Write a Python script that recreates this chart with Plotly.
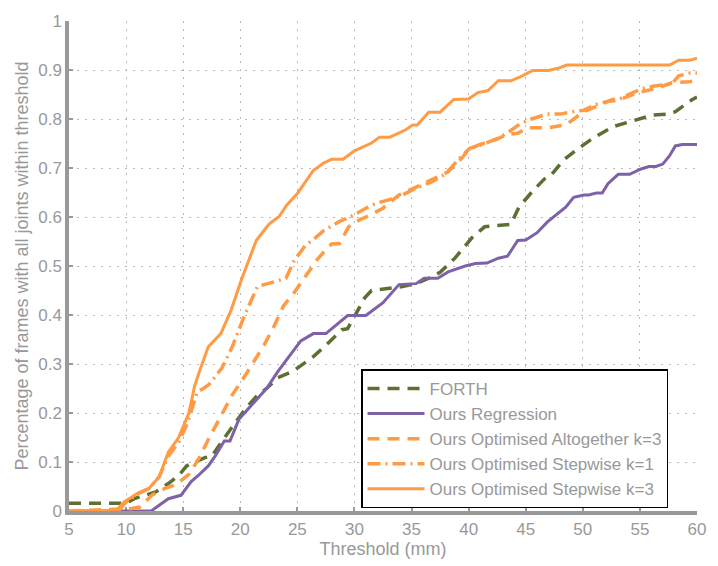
import plotly.graph_objects as go

# ---- data ----
forth_x = [5, 10, 10.8, 12.6, 13.7, 14.6, 15.3, 16, 16.9, 17.5, 18.3, 19.3, 20.5, 21.5, 22.3, 23.3, 24.6, 26.4,
           27.8, 28.9, 29.4, 30.9, 31.5, 32.8, 34.2, 35.5, 36.5, 37.5, 38.8, 40.3, 41.4, 43.7, 44.4, 45.5, 46.6,
           47.2, 48.3, 49.5, 50.9, 52.6, 54.4, 56.1, 57.5, 58.1, 59.6, 60]
forth_y = [0.016, 0.016, 0.026, 0.039, 0.056, 0.072, 0.092, 0.099, 0.109, 0.112, 0.14, 0.172, 0.21, 0.236, 0.25,
           0.272, 0.285, 0.315, 0.345, 0.37, 0.372, 0.435, 0.45, 0.453, 0.458, 0.465, 0.475, 0.487, 0.516, 0.558,
           0.58, 0.585, 0.62, 0.65, 0.677, 0.685, 0.716, 0.738, 0.761, 0.784, 0.796, 0.808, 0.81, 0.815, 0.84, 0.845]

reg_x = [5, 12.2, 13.7, 14.8, 15.7, 16.3, 17.2, 17.8, 18.6, 19.1, 19.9, 21.5, 22.3, 23.3, 25.3, 26.4, 27.5, 29.4,
         31, 32.5, 33.9, 35.4, 36.1, 37.3, 38.2, 39.7, 40.6, 41.6, 42.6, 43.4, 44.3, 45, 46, 46.9, 47.8, 48.5,
         49.2, 50.1, 50.5, 51.2, 51.7, 52.2, 53.1, 54.1, 55.1, 55.8, 56.4, 57, 57.6, 58.1, 58.7, 60]
reg_y = [0, 0, 0.025, 0.032, 0.06, 0.072, 0.092, 0.112, 0.143, 0.143, 0.188, 0.228, 0.25, 0.285, 0.347, 0.362,
         0.362, 0.399, 0.399, 0.425, 0.462, 0.464, 0.475, 0.475, 0.488, 0.5, 0.505, 0.506, 0.516, 0.52, 0.552,
         0.553, 0.568, 0.59, 0.608, 0.62, 0.64, 0.645, 0.645, 0.649, 0.649, 0.668, 0.687, 0.687, 0.698, 0.703,
         0.703, 0.708, 0.725, 0.745, 0.748, 0.748]

alt_x = [5, 10.5, 11.2, 12.3, 13.4, 14.4, 15.5, 16.4, 17.2, 18.3, 19.3, 20.2, 21.2, 22.1, 23, 23.8, 24.7, 25.7,
         26.7, 27.3, 28, 28.7, 29.5, 30.5, 31.3, 32.5, 33.9, 35.4, 37.1, 38.2, 39.4, 40, 41, 42.4, 43.3, 44.3,
         45.2, 46.9, 48.5, 49.5, 50.1, 51.2, 52.6, 53.5, 55, 56.4, 57.8, 59.3, 60]
alt_y = [0, 0.005, 0.008, 0.033, 0.046, 0.054, 0.075, 0.108, 0.146, 0.192, 0.237, 0.268, 0.305, 0.339, 0.379,
         0.419, 0.445, 0.478, 0.512, 0.528, 0.545, 0.546, 0.58, 0.595, 0.603, 0.618, 0.645, 0.661, 0.68, 0.692,
         0.72, 0.738, 0.748, 0.758, 0.768, 0.771, 0.782, 0.782, 0.788, 0.804, 0.815, 0.826, 0.84, 0.842, 0.855,
         0.862, 0.874, 0.876, 0.879]

sw1_x = [5, 9.3, 10, 11, 12, 12.9, 13.7, 14.6, 15.4, 16.2, 16.9, 17.3, 18.4, 19.3, 20.3, 21.5, 23, 24, 24.7,
         25.7, 26.6, 27.3, 28.7, 29.7, 31, 31.9, 33, 34.2, 35.5, 36.8, 38, 39.2, 40.1, 41.2, 42.6, 43.6, 44.5,
         45.5, 46.9, 48, 48.9, 50.1, 51.2, 52, 53, 54, 55.2, 56.4, 57.8, 58.4, 59.4, 60]
sw1_y = [0, 0, 0.018, 0.035, 0.046, 0.07, 0.112, 0.14, 0.18, 0.242, 0.252, 0.259, 0.292, 0.335, 0.395, 0.458,
         0.468, 0.475, 0.51, 0.542, 0.558, 0.572, 0.591, 0.601, 0.618, 0.628, 0.635, 0.645, 0.66, 0.672, 0.688,
         0.72, 0.74, 0.748, 0.761, 0.775, 0.79, 0.8, 0.81, 0.81, 0.814, 0.818, 0.83, 0.835, 0.838, 0.85, 0.862,
         0.868, 0.872, 0.888, 0.894, 0.894]

sw3_x = [5, 9.1, 9.8, 11, 12, 12.9, 13.7, 14.6, 15.5, 16, 16.5, 17.2, 17.6, 18.3, 19.2, 20.1, 21.4, 22.5, 23.4,
         24.1, 25, 26.4, 27.3, 28, 29, 30, 31.5, 32.2, 33.1, 34.5, 35.1, 35.5, 36.5, 37.5, 38.7, 40, 40.8, 41.7,
         42.6, 43.7, 44.7, 45.6, 47, 47.9, 48.6, 57.6, 58.4, 59.4, 60]
sw3_y = [0, 0, 0.018, 0.036, 0.046, 0.07, 0.12, 0.15, 0.2, 0.255, 0.29, 0.335, 0.345, 0.362, 0.41, 0.472, 0.552,
         0.585, 0.601, 0.625, 0.648, 0.695, 0.71, 0.718, 0.718, 0.735, 0.751, 0.763, 0.763, 0.778, 0.788, 0.788,
         0.814, 0.814, 0.84, 0.841, 0.854, 0.858, 0.878, 0.878, 0.888, 0.899, 0.899, 0.904, 0.91, 0.91, 0.92,
         0.92, 0.924]

x_ticks = [5, 10, 15, 20, 25, 30, 35, 40, 45, 50, 55, 60]
y_ticks = [0, 0.1, 0.2, 0.3, 0.4, 0.5, 0.6, 0.7, 0.8, 0.9, 1]

ORANGE = "#FF9A45"
PURPLE = "#7D62A8"
GREEN = "#5B7032"
GRAY = "#999999"
FONT = "Liberation Sans, Arial, sans-serif"

fig = go.Figure()
fig.add_trace(go.Scatter(x=forth_x, y=forth_y, mode="lines", name="FORTH",
                         line=dict(color=GREEN, width=3.5, dash="12px,8px")))
fig.add_trace(go.Scatter(x=reg_x, y=reg_y, mode="lines", name="Ours Regression",
                         line=dict(color=PURPLE, width=3)))
fig.add_trace(go.Scatter(x=alt_x, y=alt_y, mode="lines", name="Ours Optimised Altogether k=3",
                         line=dict(color=ORANGE, width=3.5, dash="12px,8px")))
fig.add_trace(go.Scatter(x=sw1_x, y=sw1_y, mode="lines", name="Ours Optimised Stepwise k=1",
                         line=dict(color=ORANGE, width=3.5, dash="13px,5px,2px,5px")))
fig.add_trace(go.Scatter(x=sw3_x, y=sw3_y, mode="lines", name="Ours Optimised Stepwise k=3",
                         line=dict(color=ORANGE, width=3)))

axis_common = dict(
    showline=True, linecolor=GRAY, linewidth=3.5,
    ticks="inside", ticklen=4, tickwidth=2, tickcolor=GRAY,
    showgrid=True, gridcolor="#B8B8B8", gridwidth=1, griddash="2px,6px",
    zeroline=False, layer="below traces",
    tickfont=dict(family=FONT, size=17, color=GRAY),
    title_font=dict(family=FONT, size=18, color=GRAY),
)

fig.update_layout(
    width=718, height=566,
    margin=dict(l=69, r=13, t=12, b=53),
    paper_bgcolor="white", plot_bgcolor="white",
    font=dict(family=FONT, color=GRAY),
    xaxis=dict(range=[5, 60], tickvals=x_ticks, ticktext=[str(v) for v in x_ticks],
               title=dict(text="Threshold (mm)", standoff=2), **axis_common),
    yaxis=dict(range=[0, 1], tickvals=y_ticks, ticktext=[("%g" % v) for v in y_ticks],
               title=dict(text="Percentage of frames with all joints within threshold", standoff=6),
               **axis_common),
    legend=dict(x=0.465, y=0.289, xanchor="left", yanchor="top",
                bgcolor="white", bordercolor="black", borderwidth=1.5,
                font=dict(family=FONT, size=17, color=GRAY),
                tracegroupgap=0, itemwidth=57),
    showlegend=True,
)

fig.write_html("out.html")
